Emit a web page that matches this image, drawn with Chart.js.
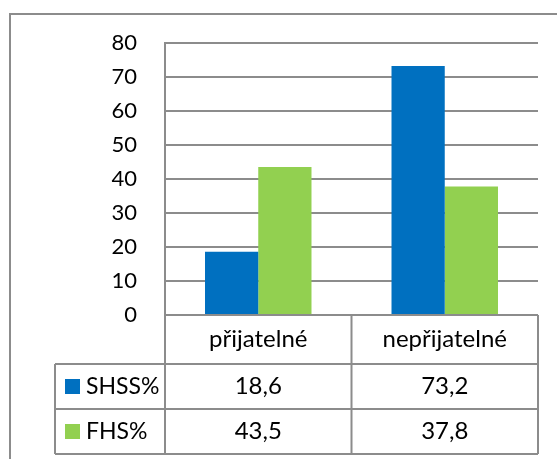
<!DOCTYPE html>
<html><head><meta charset="utf-8">
<script src="https://cdn.jsdelivr.net/npm/chart.js@4.4.0/dist/chart.umd.min.js"></script>
<style>html,body{margin:0;padding:0;background:#fff;}#wrap{width:557px;height:459px;position:relative;}</style>
</head><body><div id="wrap"><canvas id="c" width="557" height="459"></canvas></div>
<script>
const categories = ['přijatelné', 'nepřijatelné'];
const seriesNames = ['SHSS%', 'FHS%'];
const shssValues = [18.6, 73.2];
const fhsValues = [43.5, 37.8];
const shssLabels = ['18,6', '73,2'];
const fhsLabels = ['43,5', '37,8'];
const yMin = 0, yMax = 80, yStep = 10;
const seriesColors = ['#0070C0', '#92D050'];

const FONT = 'Lato, "Open Sans", sans-serif';
const LINE = '#8c8c8c';

const framePlugin = {
  id: 'frame',
  beforeDraw(chart) {
    const ctx = chart.ctx;
    ctx.save();
    ctx.fillStyle = '#fff';
    ctx.fillRect(0, 0, chart.width, chart.height);
    ctx.strokeStyle = LINE;
    ctx.lineWidth = 2;
    ctx.beginPath();
    ctx.moveTo(10, chart.height);
    ctx.lineTo(10, 14);
    ctx.lineTo(chart.width, 14);
    ctx.stroke();
    ctx.restore();
  }
};

const tablePlugin = {
  id: 'dataTable',
  afterDraw(chart) {
    const ctx = chart.ctx;
    const xs = chart.scales.x, ys = chart.scales.y;
    const area = chart.chartArea;
    const left = area.left, right = area.right;
    const zero = ys.getPixelForValue(0);
    const c0 = xs.getPixelForValue(0), c1 = xs.getPixelForValue(1);
    const mid = (c0 + c1) / 2;
    const headH = 49, rowH = 45;
    const r1 = zero + headH, r2 = r1 + rowH, r3 = r2 + rowH;
    const legL = 55;
    ctx.save();
    ctx.strokeStyle = LINE;
    ctx.lineWidth = 2;
    ctx.beginPath();
    ctx.moveTo(left, zero); ctx.lineTo(left, r3);
    ctx.moveTo(mid, zero); ctx.lineTo(mid, r3);
    ctx.moveTo(right, zero); ctx.lineTo(right, r3);
    ctx.moveTo(legL, r1); ctx.lineTo(legL, r3);
    ctx.moveTo(legL, r1); ctx.lineTo(right, r1);
    ctx.moveTo(legL, r2); ctx.lineTo(right, r2);
    ctx.moveTo(legL, r3); ctx.lineTo(right, r3);
    ctx.stroke();

    ctx.fillStyle = '#000';
    ctx.textBaseline = 'middle';
    ctx.textAlign = 'center';
    ctx.font = '24px ' + FONT;
    ctx.fillText(categories[0], c0, zero + headH / 2);
    ctx.fillText(categories[1], c1, zero + headH / 2);
    const rows = [shssLabels, fhsLabels];
    rows.forEach((labels, i) => {
      const cy = r1 + rowH * i + rowH / 2;
      ctx.fillStyle = '#000';
      ctx.textAlign = 'center';
      ctx.font = '24px ' + FONT;
      ctx.fillText(labels[0], c0, cy);
      ctx.fillText(labels[1], c1, cy);
      ctx.fillStyle = seriesColors[i];
      ctx.fillRect(65, cy - 7.5, 15, 15);
      ctx.fillStyle = '#000';
      ctx.textAlign = 'left';
      ctx.font = '23px ' + FONT;
      ctx.fillText(seriesNames[i], 86, cy);
    });
    ctx.restore();
  }
};

new Chart(document.getElementById('c'), {
  type: 'bar',
  data: {
    labels: categories,
    datasets: [
      { label: seriesNames[0], data: shssValues, backgroundColor: seriesColors[0] },
      { label: seriesNames[1], data: fhsValues, backgroundColor: seriesColors[1] }
    ]
  },
  options: {
    responsive: false,
    animation: false,
    devicePixelRatio: 1,
    layout: { padding: { left: 0, right: 19, top: 43, bottom: 144 } },
    datasets: { bar: { categoryPercentage: 0.571, barPercentage: 1.0, borderWidth: 0 } },
    plugins: { legend: { display: false }, tooltip: { enabled: false } },
    scales: {
      x: { display: false },
      y: {
        min: yMin, max: yMax,
        ticks: { stepSize: yStep, color: '#000', padding: 28, font: { family: FONT, size: 22 } },
        grid: { color: LINE, lineWidth: 2, drawTicks: false },
        border: { display: true, color: LINE, width: 2 },
        afterFit(scale) { scale.width = 165; }
      }
    }
  },
  plugins: [framePlugin, tablePlugin]
});
</script>
</body></html>
